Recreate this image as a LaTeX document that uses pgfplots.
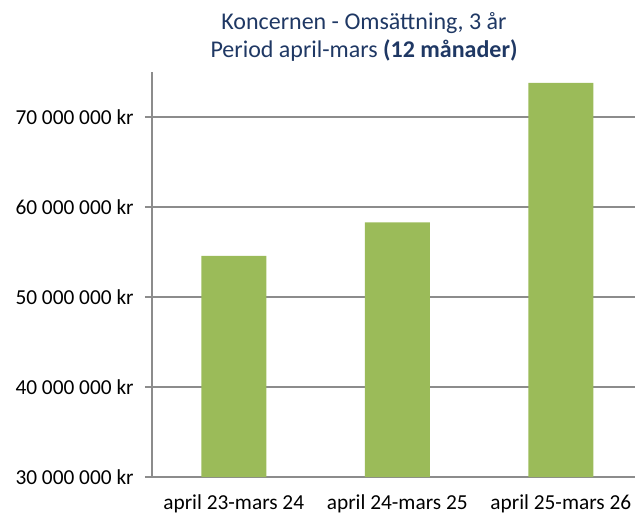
\documentclass[border=0pt]{standalone}
\usepackage{fontspec}
\setmainfont{Carlito}
\usepackage{pgfplots}
\pgfplotsset{compat=1.18}
\definecolor{bargreen}{HTML}{9BBB59}
\definecolor{axgray}{HTML}{8C8C8C}
\definecolor{titleblue}{RGB}{31,56,100}

\begin{document}
\begin{tikzpicture}
  % 1 px of the reference = 0.75pt, origin at top left
  \useasboundingbox (0,0) rectangle (476.25pt,-385.5pt);
  \begin{axis}[
      at={(114pt,-357.75pt)}, anchor=south west,
      scale only axis,
      width=362.25pt, height=303.75pt,
      xmin=-0.5, xmax=2.454,
      ymin=30, ymax=75,
      axis x line*=bottom, axis y line*=left,
      axis line style={-, axgray, line width=1.5pt},
      tick align=outside,
      major tick length=5.25pt,
      tick style={axgray, line width=1.5pt},
      xtick={0,1,2},
      xticklabels={april 23-mars 24, april 24-mars 25, april 25-mars 26},
      xtick style={draw=none},
      extra x ticks={-0.5,0.5,1.5},
      extra x tick labels={},
      extra x tick style={grid=none, tick style={draw=axgray, line width=1.5pt}},
      ytick={30,40,50,60,70},
      yticklabels={30 000 000 kr, 40 000 000 kr, 50 000 000 kr, 60 000 000 kr, 70 000 000 kr},
      ymajorgrids,
      major grid style={axgray, line width=1.5pt},
      ticklabel style={font=\fontsize{16}{19}\selectfont, text=black},
      yticklabel style={xshift=-5pt},
      xticklabel style={yshift=-4.5pt},
    ]
    \addplot[ybar, bar width=48.75pt, fill=bargreen, draw=none]
      coordinates {(0,54.56) (1,58.3) (2,73.8)};
  \end{axis}
  \node[anchor=base, text=titleblue, font=\fontsize{18}{21}\selectfont] at (273pt,-21.75pt) {Koncernen - Omsättning, 3 år};
  \node[anchor=base, text=titleblue, font=\fontsize{18}{21}\selectfont] at (273pt,-42.75pt) {Period april-mars \textbf{(12 månader)}};
\end{tikzpicture}
\end{document}
